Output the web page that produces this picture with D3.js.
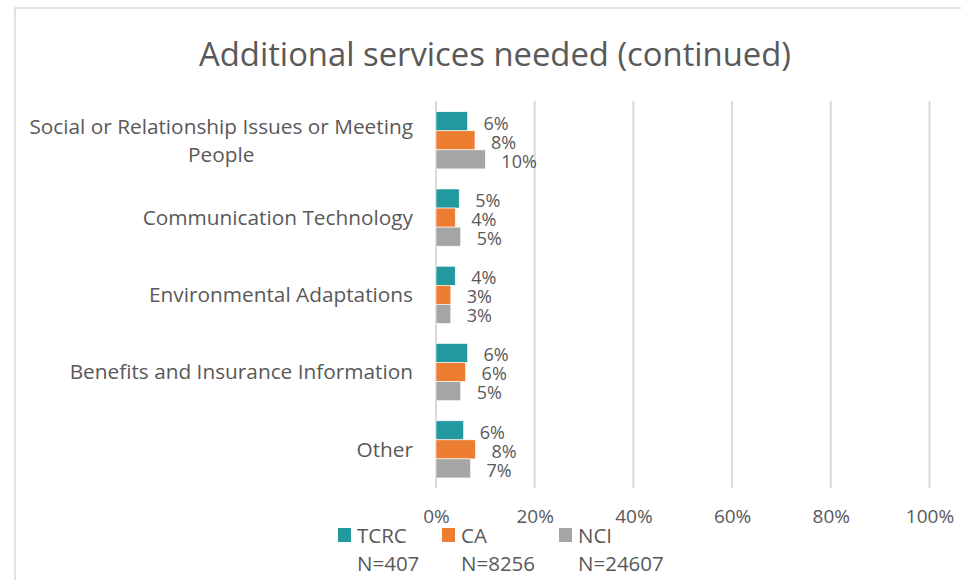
<!DOCTYPE html>
<html>
<head>
<meta charset="utf-8">
<script src="https://cdn.jsdelivr.net/npm/d3@7"></script>
<style>
  html, body { margin: 0; padding: 0; background: #ffffff; }
  svg { display: block; font-family: "Open Sans", "Noto Sans", sans-serif; }
</style>
</head>
<body>
<svg id="chart" width="961" height="580"></svg>
<script>
// Survey categories (top to bottom)
const categories = [
  "Social or Relationship Issues or Meeting People",
  "Communication Technology",
  "Environmental Adaptations",
  "Benefits and Insurance Information",
  "Other"
];
// Wrapped label lines per category
const categoryLines = [
  ["Social or Relationship Issues or Meeting", "People"],
  ["Communication Technology"],
  ["Environmental Adaptations"],
  ["Benefits and Insurance Information"],
  ["Other"]
];
const seriesNames = ["TCRC", "CA", "NCI"];
const seriesN = ["N=407", "N=8256", "N=24607"];
const seriesColors = ["#21999F", "#ED7D31", "#A5A5A5"];
// Share of respondents needing each service
const tcrcValues = [0.064, 0.047, 0.039, 0.064, 0.056];
const caValues   = [0.079, 0.039, 0.030, 0.060, 0.080];
const nciValues  = [0.100, 0.050, 0.030, 0.050, 0.070];
const tickValues = [0, 0.2, 0.4, 0.6, 0.8, 1.0];
const titleText = "Additional services needed (continued)";

const seriesValues = [tcrcValues, caValues, nciValues];
const textColor = "#595959";
const gridColor = "#d9d9d9";

const svg = d3.select("#chart");

// Outer chart frame
svg.append("rect")
  .attr("x", 15).attr("y", 8)
  .attr("width", 961).attr("height", 600)
  .attr("fill", "none")
  .attr("stroke", gridColor)
  .attr("stroke-width", 1.5);

// Title
svg.append("text")
  .attr("x", 495).attr("y", 66)
  .attr("text-anchor", "middle")
  .attr("fill", textColor)
  .attr("font-size", 32.8)
  .text(titleText);

const x = d3.scaleLinear().domain([0, 1]).range([436, 929.5]);
const y = d3.scaleBand().domain(categories).range([101.7, 488])
  .paddingInner(0.26).paddingOuter(0.13);
const ySeries = d3.scaleBand().domain(seriesNames).range([0, y.bandwidth()]);

// Vertical gridlines
svg.append("g").selectAll("line").data(tickValues).join("line")
  .attr("x1", d => x(d)).attr("x2", d => x(d))
  .attr("y1", 101).attr("y2", 488)
  .attr("stroke", gridColor).attr("stroke-width", 2);

// Bottom axis tick labels
const xAxis = d3.axisBottom(x).tickValues(tickValues)
  .tickFormat(d3.format(".0%")).tickSize(0).tickPadding(0);
const axisG = svg.append("g").attr("transform", "translate(0,505)").call(xAxis);
axisG.select(".domain").remove();
axisG.selectAll("text")
  .attr("fill", textColor)
  .attr("font-size", 19)
  .attr("font-family", "Open Sans, sans-serif")
  .attr("dy", "0.95em");

// Category labels
const catG = svg.append("g");
categories.forEach((c, i) => {
  const lines = categoryLines[i];
  const cy = y(c) + y.bandwidth() / 2;
  const lineH = 28;
  const t = catG.append("text")
    .attr("fill", textColor)
    .attr("font-size", 20.8);
  if (lines.length === 1) {
    t.attr("x", 413).attr("y", cy).attr("dy", "0.35em")
      .attr("text-anchor", "end").text(lines[0]);
  } else {
    const first = t.append("tspan").attr("x", 413).attr("y", cy - lineH / 2)
      .attr("dy", "0.35em").attr("text-anchor", "end").text(lines[0]);
    const w = first.node().getComputedTextLength();
    t.append("tspan").attr("x", 413 - w / 2).attr("y", cy + lineH / 2)
      .attr("dy", "0.35em").attr("text-anchor", "middle").text(lines[1]);
  }
});

// Bars and value labels
seriesNames.forEach((s, si) => {
  const g = svg.append("g");
  const vals = seriesValues[si];
  g.selectAll("rect").data(vals).join("rect")
    .attr("x", x(0))
    .attr("y", (d, i) => y(categories[i]) + ySeries(s))
    .attr("width", d => x(d) - x(0))
    .attr("height", ySeries.bandwidth())
    .attr("fill", seriesColors[si])
    .attr("stroke", "#ffffff")
    .attr("stroke-width", 0.6);
  g.selectAll("text").data(vals).join("text")
    .attr("x", d => x(d) + 16)
    .attr("y", (d, i) => y(categories[i]) + ySeries(s) + ySeries.bandwidth() / 2 + 2)
    .attr("dy", "0.35em")
    .attr("fill", textColor)
    .attr("font-size", 18)
    .text(d => d3.format(".0%")(d));
});

// Legend with sample sizes
const legendX = [338, 442, 559];
seriesNames.forEach((s, si) => {
  const lg = svg.append("g").attr("transform", `translate(${legendX[si]},528)`);
  lg.append("rect").attr("width", 13).attr("height", 14).attr("fill", seriesColors[si]);
  lg.append("text").attr("x", 19).attr("y", 14.5)
    .attr("fill", textColor).attr("font-size", 20.5).text(s);
  lg.append("text").attr("x", 19).attr("y", 43)
    .attr("fill", textColor).attr("font-size", 20.5).text(seriesN[si]);
});
</script>
</body>
</html>
